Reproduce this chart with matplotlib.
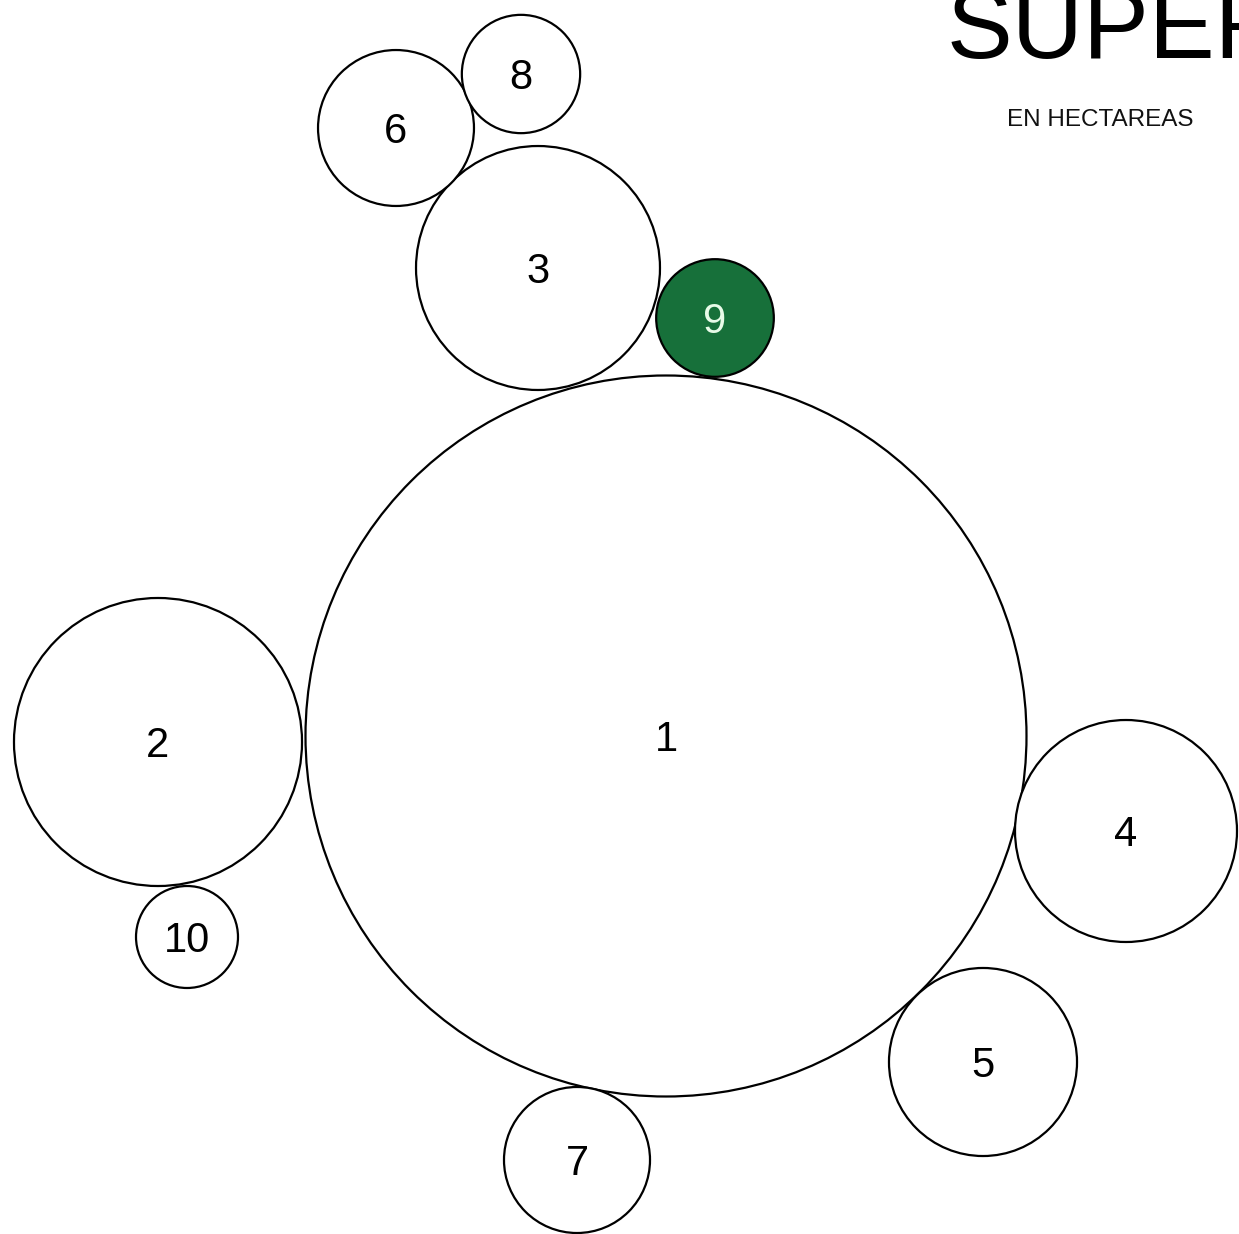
import matplotlib.pyplot as plt
from matplotlib.patches import Circle
import numpy as np

# ranking labels and area (hectares, estimated from circle sizes)
labels = ["1", "2", "3", "4", "5", "6", "7", "8", "9", "10"]
hectares = [12996, 2074, 1488, 1232, 884, 608, 533, 350, 346, 260]

# circle centres in pixel space of the original layout
centres_x = [666, 158, 538, 1126, 983, 396, 577, 521, 715, 187]
centres_y = [736, 742, 268, 831, 1062, 128, 1160, 74, 318, 937]

highlight = "9"
green = "#17703a"


def main():
    fig = plt.figure(figsize=(12.39, 12.34), dpi=100)
    ax = fig.add_axes([0, 0, 1, 1])
    ax.set_xlim(0, 1239)
    ax.set_ylim(1234, 0)
    ax.set_aspect("equal")
    ax.axis("off")

    plt.rcParams["font.family"] = ["Liberation Sans", "DejaVu Sans"]

    k = 360.5 / np.sqrt(max(hectares))
    for lab, val, cx, cy in zip(labels, hectares, centres_x, centres_y):
        r = k * np.sqrt(val)
        fill = green if lab == highlight else "white"
        ax.add_patch(Circle((cx, cy), r, facecolor=fill, edgecolor="black", linewidth=1.6))
        ax.text(cx, cy + 15, lab, ha="center", va="baseline", fontsize=30,
                color="#e8fbe8" if lab == highlight else "black")

    # the title runs off the right edge, as in the original poster
    ax.text(947, 58, "SUPERFICIE", fontsize=71, ha="left", va="baseline",
            color="black", clip_on=True)
    ax.text(1100, 120, "EN HECTAREAS", fontsize=17.5, ha="center", va="center", color="#111111")

    fig.savefig("out.png", dpi=100)


if __name__ == "__main__":
    main()
